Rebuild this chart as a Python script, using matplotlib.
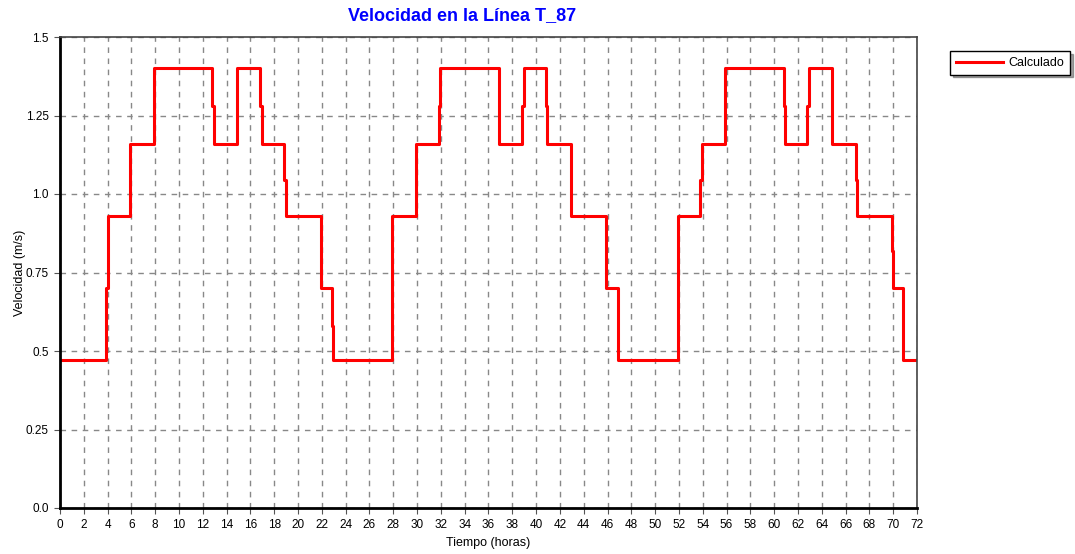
import numpy as np
import matplotlib.pyplot as plt

# step data (time in hours, velocity in m/s), value holds until next time
tiempo = [0, 3.9, 4.0, 5.9, 7.9, 12.8, 12.95, 14.9, 16.8, 16.95, 18.85, 19.0,
          21.9, 22.85, 22.97, 27.9, 29.9, 31.8, 31.95, 36.9, 38.85, 39.0,
          40.8, 40.95, 42.95, 45.85, 46.9, 51.9, 53.8, 53.95, 55.9, 60.8,
          60.95, 62.8, 62.95, 64.85, 66.9, 67.0, 69.9, 70.0, 70.85, 72]
velocidad = [0.47, 0.70, 0.93, 1.16, 1.40, 1.28, 1.16, 1.40, 1.28, 1.16, 1.045, 0.93,
             0.70, 0.58, 0.47, 0.93, 1.16, 1.28, 1.40, 1.16, 1.28, 1.40,
             1.28, 1.16, 0.93, 0.70, 0.47, 0.93, 1.045, 1.16, 1.40, 1.28,
             1.16, 1.28, 1.40, 1.16, 1.045, 0.93, 0.82, 0.70, 0.47, 0.47]

yticks = [0, 0.25, 0.5, 0.75, 1.0, 1.25, 1.5]
ylabels = ['0.0', '0.25', '0.5', '0.75', '1.0', '1.25', '1.5']
xticks = list(range(0, 73, 2))

plt.rcParams['font.family'] = ['Liberation Sans', 'DejaVu Sans']

fig = plt.figure(figsize=(10.75, 5.54), dpi=100)
ax = fig.add_axes([60/1075, 1-508/554, 857/1075, 471/554])

line, = ax.plot(tiempo, velocidad, drawstyle='steps-post', color='red', lw=2.2,
                label='Calculado')

ax.set_xlim(0, 72)
ax.set_ylim(0, 1.5)
ax.set_xticks(xticks)
ax.set_yticks(yticks)
ax.set_yticklabels(ylabels)
ax.tick_params(labelsize=8.5, length=4, width=0.8, color='#555555', pad=4)
ax.grid(True, color='#888888', linestyle=(0, (4, 4)), lw=1)
ax.set_axisbelow(True)

for s in ['left', 'bottom']:
    ax.spines[s].set_linewidth(2)
    ax.spines[s].set_color('black')
for s in ['top', 'right']:
    ax.spines[s].set_linewidth(1.2)
    ax.spines[s].set_color('#444444')
    ax.spines[s].set_linestyle((0, (2, 1)))

ax.set_xlabel('Tiempo (horas)', fontsize=9, labelpad=4)
ax.set_ylabel('Velocidad (m/s)', fontsize=9, labelpad=0)

fig.text(462/1075, 1-16/554, 'Velocidad en la Línea T_87', color='#0000ff',
         fontsize=13, fontweight='bold', ha='center', va='center')

leg = fig.legend(handles=[line], loc='upper left',
                 bbox_to_anchor=(944/1075, 1-45/554), fontsize=9,
                 frameon=True, fancybox=False, shadow=True,
                 handlelength=3.8, borderpad=0.45, handletextpad=0.4)
leg.get_frame().set_edgecolor('black')
leg.get_frame().set_linewidth(1)

plt.savefig('out.png', dpi=100)
